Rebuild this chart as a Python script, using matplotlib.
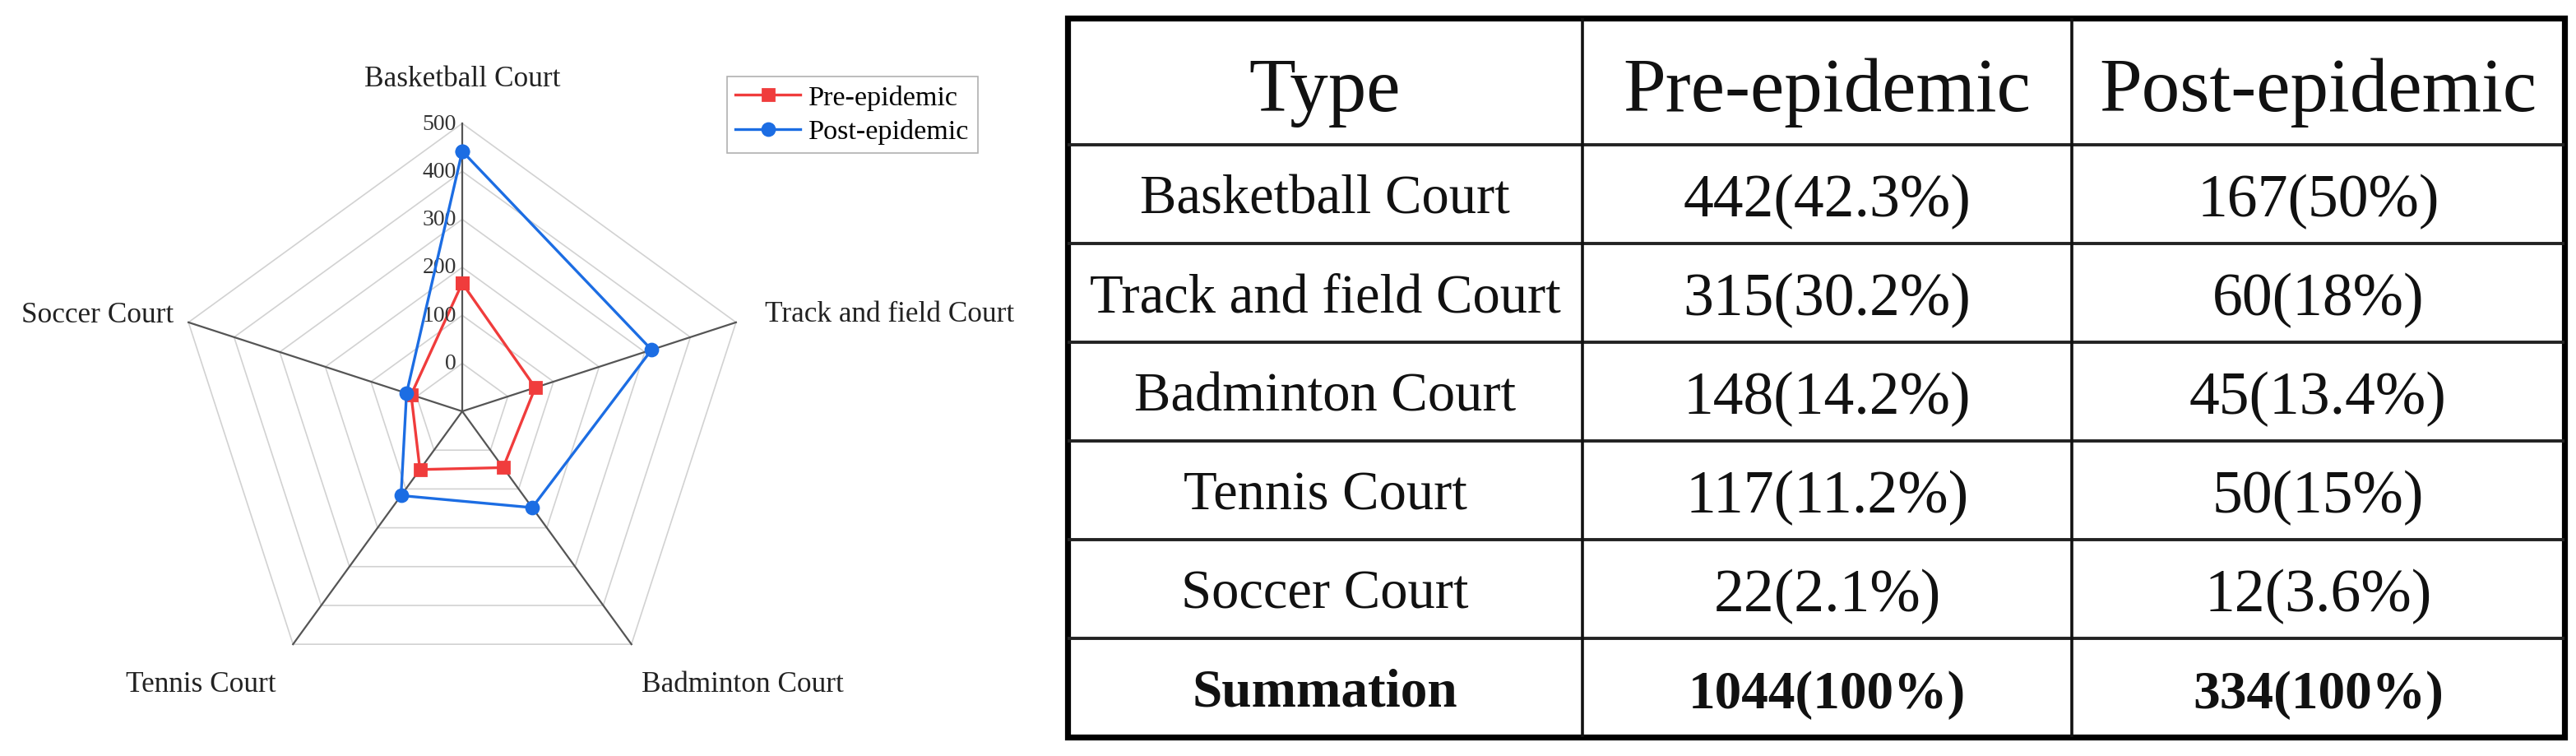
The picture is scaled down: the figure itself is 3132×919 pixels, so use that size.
import numpy as np
import matplotlib.pyplot as plt

plt.rcParams['font.family'] = ['Liberation Serif', 'DejaVu Serif']

#%% Data
courts = ["Basketball Court", "Track and field Court", "Badminton Court",
          "Tennis Court", "Soccer Court"]
# series as drawn in the radar, legend names kept as in the source chart
radar_pre = [167, 60, 45, 50, 12]
radar_post = [442, 315, 148, 117, 22]
radial_ticks = [0, 100, 200, 300, 400, 500]
r_min, r_max = -100, 500

table_header = ["Type", "Pre-epidemic", "Post-epidemic"]
table_types = courts + ["Summation"]
table_pre = ["442(42.3%)", "315(30.2%)", "148(14.2%)", "117(11.2%)", "22(2.1%)", "1044(100%)"]
table_post = ["167(50%)", "60(18%)", "45(13.4%)", "50(15%)", "12(3.6%)", "334(100%)"]

#%% Figure
W, H, DPI = 3132, 920, 200
fig = plt.figure(figsize=(W / DPI, H / DPI), dpi=DPI)

#%% Radar
ax = fig.add_axes([212 / W, 1 - 851 / H, 700 / W, 700 / H], projection='polar')
ax.set_theta_zero_location('N')
ax.set_theta_direction(-1)
ax.set_ylim(r_min, r_max)
ax.grid(False)
ax.spines['polar'].set_visible(False)
ax.set_xticks([])
ax.set_yticks([])

angles = np.linspace(0, 2 * np.pi, len(courts), endpoint=False)
closed = np.append(angles, angles[0])

for r in radial_ticks:
    ax.plot(closed, [r] * len(closed), color='#d2d2d2', lw=0.6, zorder=1, clip_on=False)
for a in angles:
    ax.plot([a, a], [r_min, r_max], color='#555555', lw=0.8, zorder=2, clip_on=False)

ax.plot(closed, radar_pre + radar_pre[:1], color='#f03c3c', lw=1.2, marker='s', ms=4.7,
        label='Pre-epidemic', zorder=3, clip_on=False)
ax.plot(closed, radar_post + radar_post[:1], color='#1c6de3', lw=1.2, marker='o', ms=5.4,
        label='Post-epidemic', zorder=4, clip_on=False)

for v in radial_ticks:
    ax.annotate(str(v), xy=(0, v), xytext=(-2.5, 0), textcoords='offset points',
                ha='right', va='center', fontsize=10, color='#333333', annotation_clip=False)

# label offsets (points) from each outer vertex
label_pos = [(0, 19.8, 'center'), (12.6, 3.6, 'left'), (4.3, -17.3, 'left'),
             (-7.6, -17.3, 'right'), (-6.5, 3.2, 'right')]
for a, name, (dx, dy, ha) in zip(angles, courts, label_pos):
    ax.annotate(name, xy=(a, r_max), xytext=(dx, dy), textcoords='offset points',
                ha=ha, va='center', fontsize=12.7, color='#222222', annotation_clip=False)

leg = fig.legend(loc='upper left', bbox_to_anchor=(884 / W, 1 - 94 / H), borderaxespad=0,
                 fontsize=12.3, frameon=True, fancybox=False, edgecolor='#b0b0b0',
                 framealpha=1, handlelength=2.3, handletextpad=0.3, borderpad=0.3,
                 labelspacing=0.3)
leg.get_frame().set_linewidth(0.6)

#%% Table
tax = fig.add_axes([0, 0, 1, 1])
tax.set_xlim(0, W)
tax.set_ylim(H, 0)
tax.axis('off')

col_x = [1298, 1924, 2519, 3118]
row_y = [23, 177, 297, 417, 537, 657, 777, 897]

for y in row_y[1:-1]:
    tax.plot([col_x[0], col_x[-1]], [y, y], color='#222222', lw=1.4, solid_capstyle='butt')
for x in col_x[1:-1]:
    tax.plot([x, x], [row_y[0], row_y[-1]], color='#111111', lw=1.3, solid_capstyle='butt')
tax.add_patch(plt.Rectangle((col_x[0], row_y[0]), col_x[-1] - col_x[0], row_y[-1] - row_y[0],
                            fill=False, edgecolor='black', lw=2.6, joinstyle='miter'))


def cell_text(txt, col, row, fs, weight='normal', shift=0.0):
    cx = (col_x[col] + col_x[col + 1]) / 2
    cy = (row_y[row] + row_y[row + 1]) / 2
    base = cy + 0.331 * fs * DPI / 72 + shift
    tax.text(cx, base, txt, ha='center', va='baseline', fontsize=fs,
             fontweight=weight, color='#111111')


for j, h in enumerate(table_header):
    cell_text(h, j, 0, 33.5, shift=4)

n = len(table_types)
for i in range(n):
    bold = 'bold' if i == n - 1 else 'normal'
    cell_text(table_types[i], 0, i + 1, 23.5 if bold == 'bold' else 24, bold)
    cell_text(table_pre[i], 1, i + 1, 23.5 if bold == 'bold' else 26.5, bold, shift=2)
    cell_text(table_post[i], 2, i + 1, 23.5 if bold == 'bold' else 26.5, bold, shift=2)

fig.savefig('out.png', dpi=DPI, facecolor='white')
